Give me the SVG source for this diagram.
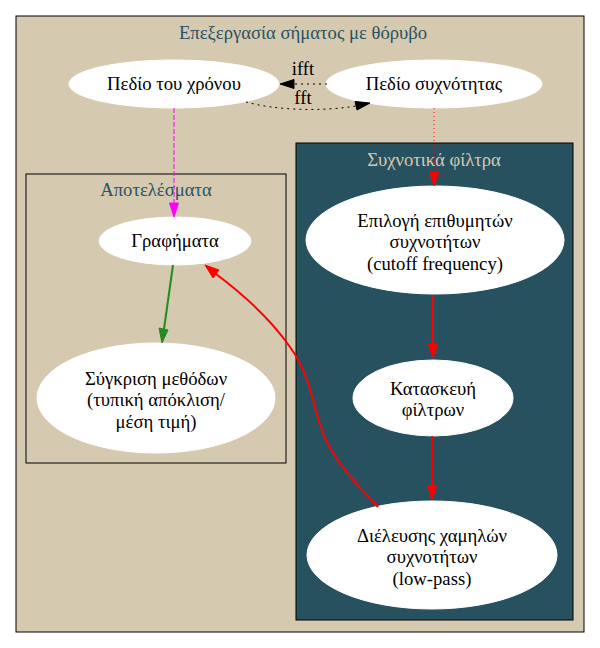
<svg xmlns="http://www.w3.org/2000/svg" width="600" height="648" viewBox="0 0 600 648">
<style>
text{font-family:'Liberation Serif','Times New Roman',Times,serif;font-size:18.67px;text-anchor:middle}
.n{fill:#ffffff;stroke:#ffffff}
.ct{fill:#2a5263}
.e{fill:none}
</style>
<rect x="0" y="0" width="600" height="648" fill="#ffffff"/>
<g font-family="Liberation Serif, Times New Roman, serif">
<g id="cluster_main">
<rect x="16" y="16" width="568" height="616" fill="#d5c9b0" stroke="#000000"/>
<text class="ct" x="303" y="39">Επεξεργασία σήματος με θόρυβο</text>
</g>
<g id="cluster_results">
<rect x="26" y="174" width="260" height="289" fill="#d5c9b0" stroke="#000000"/>
<text class="ct" x="156" y="196">Αποτελέσματα</text>
</g>
<g id="cluster_filters">
<rect x="296" y="143" width="277" height="477" fill="#285160" stroke="#000000"/>
<text x="434" y="166" fill="#d5c9b0">Συχνοτικά φίλτρα</text>
</g>
<g id="time">
<ellipse class="n" cx="174" cy="84" rx="105" ry="24"/>
<text x="174" y="90">Πεδίο του χρόνου</text>
</g>
<g id="freq">
<ellipse class="n" cx="434" cy="84" rx="108" ry="24"/>
<text x="434" y="90">Πεδίο συχνότητας</text>
</g>
<g id="plots">
<ellipse class="n" cx="175" cy="241" rx="76" ry="24"/>
<text x="175" y="247">Γραφήματα</text>
</g>
<g id="compare">
<ellipse class="n" cx="156" cy="398" rx="119" ry="55"/>
<text x="156" y="385">Σύγκριση μεθόδων</text>
<text x="156" y="406">(τυπική απόκλιση/</text>
<text x="156" y="428">μέση τιμή)</text>
</g>
<g id="select">
<ellipse class="n" cx="435" cy="240" rx="129" ry="54"/>
<text x="435" y="227">Επιλογή επιθυμητών</text>
<text x="435" y="248">συχνοτήτων</text>
<text x="435" y="270">(cutoff frequency)</text>
</g>
<g id="build">
<ellipse class="n" cx="433" cy="398" rx="80" ry="38"/>
<text x="433" y="395">Κατασκευή</text>
<text x="433" y="416">φίλτρων</text>
</g>
<g id="lowpass">
<ellipse class="n" cx="432" cy="555" rx="125" ry="54"/>
<text x="432" y="542">Διέλευσης χαμηλών</text>
<text x="432" y="563">συχνοτήτων</text>
<text x="432" y="585">(low-pass)</text>
</g>
<g id="edges">
<path class="e" d="M327,84 L294,84" stroke="#000000" stroke-dasharray="2,4"/>
<polygon points="294,79.5 280,84 294,88.5" fill="#000000" stroke="#000000"/>
<text x="303" y="75">ifft</text>
<path class="e" d="M246,102 C275,110 320,112 356,106" stroke="#000000" stroke-dasharray="2,4"/>
<polygon points="355,101.5 370,103 357,110" fill="#000000" stroke="#000000"/>
<text x="303" y="104">fft</text>
<path class="e" d="M174,108 L174,203" stroke="#ff00ff" stroke-dasharray="5,2"/>
<polygon points="169.5,203 174,217 178.5,203" fill="#ff00ff" stroke="#ff00ff"/>
<path class="e" d="M173,265 L164,329" stroke="#228b22" stroke-width="2"/>
<polygon points="159,328 162,343 168,330" fill="#228b22" stroke="#228b22"/>
<path class="e" d="M434,108 L434,172" stroke="#ff0000" stroke-dasharray="1,3"/>
<polygon points="429.5,172 434,186 438.5,172" fill="#ff0000" stroke="#ff0000"/>
<path class="e" d="M433,295 L433,344" stroke="#ff0000" stroke-width="2"/>
<polygon points="428.5,344 433,358 437.5,344" fill="#ff0000" stroke="#ff0000"/>
<path class="e" d="M432,436 L432,486" stroke="#ff0000" stroke-width="2"/>
<polygon points="427.5,486 432,500 436.5,486" fill="#ff0000" stroke="#ff0000"/>
<path class="e" d="M378,507 C350,478 330,455 320,425 C312,400 310,375 290,347 C270,318 240,292 216,274" stroke="#ff0000" stroke-width="2"/>
<polygon points="213,278 205,265 219,270" fill="#ff0000" stroke="#ff0000"/>
</g>
</g>
</svg>
